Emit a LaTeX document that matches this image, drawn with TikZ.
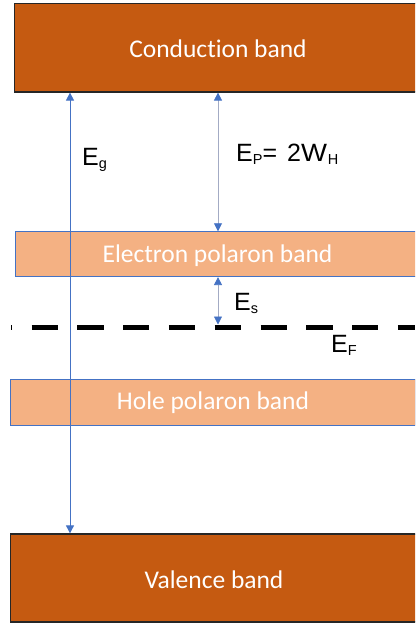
\documentclass[tikz,border=0pt]{standalone}
\usepackage{fontspec}
\setmainfont{Liberation Sans}
\newfontfamily\bandfont[Ligatures=NoCommon]{Carlito}
\usetikzlibrary{arrows.meta}
\definecolor{cbfill}{HTML}{C55A11}
\definecolor{pbfill}{HTML}{F4B183}
\definecolor{pbborder}{HTML}{4472C4}
\definecolor{arblue}{HTML}{4472C4}
\definecolor{argray}{HTML}{A3ABC4}
\newcommand\lsub[1]{\raisebox{-3.8pt}{\fontsize{14.5}{15}\selectfont #1}}
\newcommand\lowr[2]{\raisebox{-#1}[\height][\depth]{#2}}
\tikzset{
  tipb/.tip={Triangle[length=8pt, width=8pt, fill=arblue, color=arblue]},
  bigband/.style={draw=black!85, line width=1.3pt, fill=cbfill, text=white, inner sep=0pt,
    font=\bandfont\fontsize{25.5}{28}\selectfont},
  polband/.style={draw=pbborder, line width=0.8pt, fill=pbfill, text=white, inner sep=0pt,
    font=\bandfont\fontsize{25.5}{28}\selectfont},
  lbl/.style={inner sep=0pt, anchor=base west, font=\fontsize{25}{27}\selectfont},
  enarrow/.style={line width=0.8pt, {tipb}-{tipb}},
}
\begin{document}
\begin{tikzpicture}[x=1pt, y=-1pt]
\useasboundingbox (0,0) rectangle (415,623);
\clip (0,0) rectangle (415,623);
\fill[white] (0,0) rectangle (415,623);
% bands
\node[bigband, minimum width=406.6pt, minimum height=88.7pt] (cb) at (218,47.6) {\lowr{1pt}{Conduction band}};
\node[polband, minimum width=405pt, minimum height=45pt] (ep) at (217.5,254.2) {\lowr{1.5pt}{Electron polaron band}};
\node[polband, minimum width=405pt, minimum height=46pt] (hp) at (213,402) {\lowr{1pt}{Hole polaron band}};
\node[bigband, minimum width=406.6pt, minimum height=88pt] (vb) at (214,578) {\lowr{2pt}{Valence band}};
% Fermi level
\coordinate (efa) at (11,327.3);
\coordinate (efb) at (415,327.3);
\draw[line width=4.6pt, dash pattern=on 26.3pt off 19.5pt, dash phase=25.3pt] (efa) -- (efb);
\coordinate (eft) at (218,324.5);
% arrows
\coordinate (egx) at (70,0);
\coordinate (epx) at (218,0);
\draw[enarrow, draw=arblue] (egx |- vb.north) -- (egx |- cb.south);
\draw[enarrow, draw=argray] (epx |- ep.north) -- (epx |- cb.south);
\draw[enarrow, draw=argray] (eft) -- (epx |- ep.south);
% labels
\node[lbl] (lg) at (82,165) {E\lsub{g}};
\node[lbl] (lp) at (236,161) {E\lsub{P}=\hspace{3pt} 2\scalebox{1.1}[1]{W}\hspace{1pt}\lsub{H}};
\node[lbl] (ls) at (234,310) {E\lsub{s}};
\node[lbl] (lf) at (331,352) {E\lsub{F}};
\end{tikzpicture}
\end{document}
